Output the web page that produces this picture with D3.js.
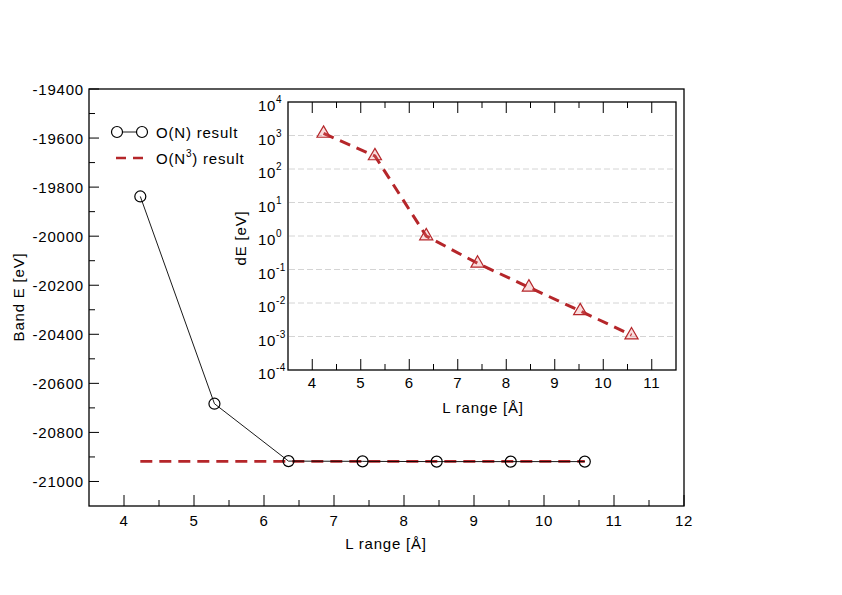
<!DOCTYPE html>
<html>
<head>
<meta charset="utf-8">
<script src="https://cdn.jsdelivr.net/npm/d3@7"></script>
<style>
  body { margin: 0; background: #fff; }
  text { font-family: "Liberation Sans", Arial, sans-serif; fill: #000; }
</style>
</head>
<body>
<div id="chart"></div>
<script>
// datos
var lRange = [4.233, 5.292, 6.350, 7.408, 8.467, 9.525, 10.583];
var bandON = [-19838, -20683, -20917, -20918, -20919, -20919, -20919];
var bandON3 = [-20918, -20918, -20918, -20918, -20918, -20918, -20918];
var dE = [1150, 245, 1.0, 0.153, 0.0295, 0.0058, 0.0011];

var mainXTicks = [4, 5, 6, 7, 8, 9, 10, 11, 12];
var mainYTicks = [-21000, -20800, -20600, -20400, -20200, -20000, -19800, -19600, -19400];
var insetXTicks = [4, 5, 6, 7, 8, 9, 10, 11];
var insetYExp = [-4, -3, -2, -1, 0, 1, 2, 3, 4];
var legendLabels = ["O(N) result", "O(N3) result"];

var red = "#b5262a";
var width = 842, height = 595;

var svg = d3.select("#chart").append("svg")
    .attr("width", width)
    .attr("height", height);

// ---- grafico principal ----
var x = d3.scaleLinear().domain([3.5, 12]).range([89, 684]);
var y = d3.scaleLinear().domain([-21100, -19400]).range([506, 89]);

svg.append("rect")
    .attr("x", 89).attr("y", 89)
    .attr("width", 684 - 89).attr("height", 506 - 89)
    .attr("fill", "none").attr("stroke", "#000").attr("stroke-width", 1.3);

// ticks eje x (hacia dentro)
var xMinor = d3.range(3.5, 12.01, 0.5).filter(function (d) { return d % 1 !== 0 && d > 3.5; });
svg.append("g").selectAll("line").data(mainXTicks).enter().append("line")
    .attr("x1", function (d) { return x(d); }).attr("x2", function (d) { return x(d); })
    .attr("y1", 506).attr("y2", 495).attr("stroke", "#000");
svg.append("g").selectAll("line").data(xMinor).enter().append("line")
    .attr("x1", function (d) { return x(d); }).attr("x2", function (d) { return x(d); })
    .attr("y1", 506).attr("y2", 500).attr("stroke", "#000");
svg.append("g").selectAll("text").data(mainXTicks).enter().append("text")
    .attr("x", function (d) { return x(d); })
    .attr("y", 526)
    .attr("text-anchor", "middle")
    .attr("font-size", 15).attr("letter-spacing", 0.6)
    .text(function (d) { return d; });

// ticks eje y
var yMinor = d3.range(-21100, -19399, 100).filter(function (d) { return d % 200 !== 0 && d > -21100; });
svg.append("g").selectAll("line").data(mainYTicks).enter().append("line")
    .attr("x1", 89).attr("x2", 99)
    .attr("y1", function (d) { return y(d); }).attr("y2", function (d) { return y(d); })
    .attr("stroke", "#000");
svg.append("g").selectAll("line").data(yMinor).enter().append("line")
    .attr("x1", 89).attr("x2", 95)
    .attr("y1", function (d) { return y(d); }).attr("y2", function (d) { return y(d); })
    .attr("stroke", "#000");
svg.append("g").selectAll("text").data(mainYTicks).enter().append("text")
    .attr("x", 84)
    .attr("y", function (d) { return y(d) + 5.5; })
    .attr("text-anchor", "end")
    .attr("font-size", 15).attr("letter-spacing", 0.8)
    .text(function (d) { return d; });

svg.append("text")
    .attr("transform", "translate(24,297) rotate(-90)")
    .attr("text-anchor", "middle")
    .attr("font-size", 15).attr("letter-spacing", 0.8)
    .text("Band E [eV]");
svg.append("text")
    .attr("x", 386).attr("y", 549)
    .attr("text-anchor", "middle")
    .attr("font-size", 15).attr("letter-spacing", 0.8)
    .text("L range [Å]");

// serie O(N^3)
var lineMain = d3.line()
    .x(function (d) { return x(d[0]); })
    .y(function (d) { return y(d[1]); });
svg.append("path")
    .attr("d", lineMain(d3.zip(lRange, bandON3)))
    .attr("fill", "none").attr("stroke", red)
    .attr("stroke-width", 2.6).attr("stroke-dasharray", "12,7");

// serie O(N)
svg.append("path")
    .attr("d", lineMain(d3.zip(lRange, bandON)))
    .attr("fill", "none").attr("stroke", "#000").attr("stroke-width", 0.9);
svg.append("g").selectAll("circle").data(d3.zip(lRange, bandON)).enter().append("circle")
    .attr("cx", function (d) { return x(d[0]); })
    .attr("cy", function (d) { return y(d[1]); })
    .attr("r", 5.5)
    .attr("fill", "none").attr("stroke", "#000").attr("stroke-width", 1.2);

// leyenda
var leg = svg.append("g");
leg.append("line").attr("x1", 117).attr("x2", 142).attr("y1", 132).attr("y2", 132)
    .attr("stroke", "#000").attr("stroke-width", 0.9);
leg.selectAll("circle").data([117, 142]).enter().append("circle")
    .attr("cx", function (d) { return d; }).attr("cy", 132).attr("r", 5.5)
    .attr("fill", "#fff").attr("stroke", "#000").attr("stroke-width", 1.2);
leg.append("line").attr("x1", 116).attr("x2", 145).attr("y1", 158).attr("y2", 158)
    .attr("stroke", red).attr("stroke-width", 2.6).attr("stroke-dasharray", "10,7");
leg.append("text").attr("x", 156).attr("y", 138)
    .attr("font-size", 15).attr("letter-spacing", 0.8)
    .text(legendLabels[0]);
var t2 = leg.append("text").attr("x", 156).attr("y", 164)
    .attr("font-size", 15).attr("letter-spacing", 0.8);
t2.append("tspan").text("O(N");
t2.append("tspan").attr("dy", -7).attr("font-size", 10).text("3");
t2.append("tspan").attr("dy", 7).text(") result");

// ---- grafico insertado ----
var xi = d3.scaleLinear().domain([3.5, 11.5]).range([288, 676]);
var yi = d3.scaleLog().domain([1e-4, 1e4]).range([370, 102]);

svg.append("rect")
    .attr("x", 288).attr("y", 102)
    .attr("width", 676 - 288).attr("height", 370 - 102)
    .attr("fill", "#fff").attr("stroke", "#000").attr("stroke-width", 1.3);

// rejilla
var gridExp = insetYExp.filter(function (e) { return e > -4 && e < 4; });
svg.append("g").selectAll("line").data(gridExp).enter().append("line")
    .attr("x1", 289).attr("x2", 675)
    .attr("y1", function (e) { return yi(Math.pow(10, e)); })
    .attr("y2", function (e) { return yi(Math.pow(10, e)); })
    .attr("stroke", "#d4d4d4").attr("stroke-width", 1).attr("stroke-dasharray", "6,3");

var xiMinor = d3.range(4.5, 11.01, 1);
[370, 102].forEach(function (base) {
    var dir = base === 370 ? -1 : 1;
    svg.append("g").selectAll("line").data(insetXTicks).enter().append("line")
        .attr("x1", function (d) { return xi(d); }).attr("x2", function (d) { return xi(d); })
        .attr("y1", base).attr("y2", base + dir * 11).attr("stroke", "#000");
    svg.append("g").selectAll("line").data(xiMinor).enter().append("line")
        .attr("x1", function (d) { return xi(d); }).attr("x2", function (d) { return xi(d); })
        .attr("y1", base).attr("y2", base + dir * 6).attr("stroke", "#000");
});
svg.append("g").selectAll("text").data(insetXTicks).enter().append("text")
    .attr("x", function (d) { return xi(d); })
    .attr("y", 388)
    .attr("text-anchor", "middle")
    .attr("font-size", 15).attr("letter-spacing", 0.6)
    .text(function (d) { return d; });

var yLab = svg.append("g").selectAll("text").data(insetYExp).enter().append("text")
    .attr("x", 258)
    .attr("y", function (e) { return yi(Math.pow(10, e)) + 9; })
    .attr("font-size", 15).attr("letter-spacing", 0.6);
yLab.append("tspan").text("10");
yLab.append("tspan").attr("dy", -8).attr("font-size", 10)
    .text(function (e) { return e; });

svg.append("text")
    .attr("transform", "translate(246,238) rotate(-90)")
    .attr("text-anchor", "middle")
    .attr("font-size", 15).attr("letter-spacing", 0.8)
    .text("dE [eV]");
svg.append("text")
    .attr("x", 483).attr("y", 413)
    .attr("text-anchor", "middle")
    .attr("font-size", 15).attr("letter-spacing", 0.8)
    .text("L range [Å]");

var lineInset = d3.line()
    .x(function (d) { return xi(d[0]); })
    .y(function (d) { return yi(d[1]); });
svg.append("path")
    .attr("d", lineInset(d3.zip(lRange, dE)))
    .attr("fill", "none").attr("stroke", red)
    .attr("stroke-width", 3).attr("stroke-dasharray", "11,7");

var tri = d3.symbol().type(d3.symbolTriangle).size(75);
svg.append("g").selectAll("path").data(d3.zip(lRange, dE)).enter().append("path")
    .attr("d", tri)
    .attr("transform", function (d) { return "translate(" + xi(d[0]) + "," + yi(d[1]) + ")"; })
    .attr("fill", "rgba(230,120,120,0.25)").attr("stroke", red).attr("stroke-width", 1.2);
</script>
</body>
</html>
